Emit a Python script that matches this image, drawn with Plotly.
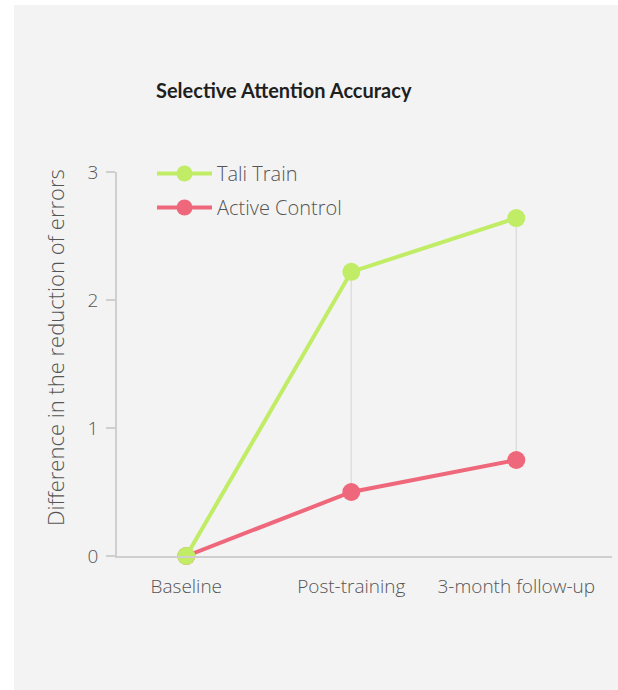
import plotly.graph_objects as go

categories = ["Baseline", "Post-training", "3-month follow-up"]
tali_train = [0, 2.22, 2.64]
active_control = [0, 0.50, 0.75]
y_ticks = [0, 1, 2, 3]

GREEN = "#c0ec66"
RED = "#ef677b"
FONT = "Open Sans, sans-serif"
TFONT = "Lato, sans-serif"

W, H = 618, 690
L, T = 117, 172
R = W - 612
B = H - 556
pw, ph = W - L - R, H - T - B

def px_x(p):
    return (p - L) / pw

def px_y(p):
    return (H - B - p) / ph

fig = go.Figure()

# connector lines between the two series
cx, cy = [], []
for c, g, r in zip(categories, tali_train, active_control):
    if g != r:
        cx += [c, c, None]
        cy += [r, g, None]
fig.add_trace(go.Scatter(x=cx, y=cy, mode="lines", line=dict(color="#dedede", width=1.5),
                         showlegend=False, hoverinfo="skip"))

fig.add_trace(go.Scatter(x=categories, y=active_control, name="Active Control",
                         mode="lines+markers", line=dict(color=RED, width=4),
                         marker=dict(color=RED, size=18), cliponaxis=False,
                         legendgroup="b", legendrank=2))
fig.add_trace(go.Scatter(x=categories, y=tali_train, name="Tali Train",
                         mode="lines+markers", line=dict(color=GREEN, width=4),
                         marker=dict(color=GREEN, size=18), cliponaxis=False,
                         legendgroup="a", legendrank=1))

# white page edges around the grey card
fig.add_shape(type="rect", xref="paper", yref="paper",
              x0=px_x(-5), x1=px_x(14), y0=px_y(700), y1=px_y(-5),
              fillcolor="white", line=dict(width=0), layer="below")
fig.add_shape(type="rect", xref="paper", yref="paper",
              x0=px_x(-5), x1=px_x(630), y0=px_y(5), y1=px_y(-5),
              fillcolor="white", line=dict(width=0), layer="below")

fig.add_annotation(text="<b>Selective Attention Accuracy</b>", xref="paper", yref="paper",
                   x=px_x(284), y=px_y(90), xanchor="center", yanchor="middle",
                   showarrow=False, font=dict(family=TFONT, size=20, color="#1f1f1f"))
fig.add_annotation(text="Difference in the reduction of errors", xref="paper", yref="paper",
                   x=px_x(55), y=px_y(348), xanchor="center", yanchor="middle",
                   textangle=-90, showarrow=False,
                   font=dict(family=FONT, size=22, color="#555555", weight=300))

fig.update_layout(
    width=W, height=H,
    margin=dict(l=L, r=R, t=T, b=B, pad=0),
    paper_bgcolor="#f3f3f3", plot_bgcolor="rgba(0,0,0,0)",
    font=dict(family=FONT, size=16, color="#555555", weight=300),
    legend=dict(x=px_x(152), y=px_y(154), xanchor="left", yanchor="top",
                traceorder="grouped", bgcolor="rgba(0,0,0,0)",
                font=dict(size=20, color="#555555", weight=300), itemwidth=55,
                tracegroupgap=5),
    showlegend=True,
)
fig.update_xaxes(type="category", categoryorder="array", categoryarray=categories,
                 range=[-0.42, 2.58], showgrid=False,
                 showline=True, linecolor="#cfcfcf", linewidth=1.5, ticks="",
                 ticklabelstandoff=12,
                 tickfont=dict(size=19, color="#555555", weight=300), zeroline=False)
fig.update_yaxes(range=[0, 3], tickvals=y_ticks, showgrid=False, zeroline=False,
                 showline=True, linecolor="#cfcfcf", linewidth=1.5, ticks="outside",
                 ticklen=9, tickcolor="#cfcfcf", tickwidth=1.5, ticklabelstandoff=4,
                 tickfont=dict(size=19, color="#555555", weight=300))

fig.write_html("out.html", config={"displayModeBar": False},
               post_script="document.body.style.margin='0';"
                           "document.documentElement.style.overflow='hidden';"
                           "document.body.style.overflow='hidden';")
